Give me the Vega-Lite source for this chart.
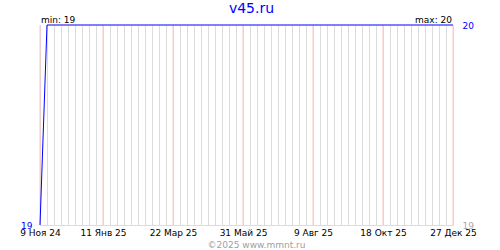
{
  "$schema": "https://vega.github.io/schema/vega-lite/v6.json",
  "width": 413,
  "height": 200,
  "autosize": {"type": "none"},
  "padding": {"left": 40, "top": 25, "right": 47, "bottom": 25},
  "background": "white",
  "config": {"view": {"stroke": null}, "font": "DejaVu Sans"},
  "title": {"text": "v45.ru", "fontSize": 14, "fontWeight": "normal", "color": "#0000ff", "font": "DejaVu Sans", "anchor": "middle", "offset": 0, "dx": 5},
  "encoding": {
    "x": {
      "field": "date", "type": "temporal",
      "scale": {"type": "utc", "domain": [{"year": 2024, "month": 11, "date": 9, "utc": true}, {"year": 2025, "month": 12, "date": 27, "utc": true}]},
      "axis": {
        "orient": "bottom",
        "values": [1731110400000,1731715200000,1732320000000,1732924800000,1733529600000,1734134400000,1734739200000,1735344000000,1735948800000,1736553600000,1737158400000,1737763200000,1738368000000,1738972800000,1739577600000,1740182400000,1740787200000,1741392000000,1741996800000,1742601600000,1743206400000,1743811200000,1744416000000,1745020800000,1745625600000,1746230400000,1746835200000,1747440000000,1748044800000,1748649600000,1749254400000,1749859200000,1750464000000,1751068800000,1751673600000,1752278400000,1752883200000,1753488000000,1754092800000,1754697600000,1755302400000,1755907200000,1756512000000,1757116800000,1757721600000,1758326400000,1758931200000,1759536000000,1760140800000,1760745600000,1761350400000,1761955200000,1762560000000,1763164800000,1763769600000,1764374400000,1764979200000,1765584000000,1766188800000,1766793600000],
        "grid": true,
        "gridWidth": 1,
        "gridColor": "#dcdcdc",
        "ticks": false,
        "tickSize": 0,
        "domainColor": "#dcdcdc",
        "labelExpr": "indexof([1731110400000,1736553600000,1742601600000,1748649600000,1754697600000,1760745600000,1766793600000], +datum.value) >= 0 ? (utcdate(datum.value) + ' ' + ['Янв','Фев','Мар','Апр','Май','Июн','Июл','Авг','Сен','Окт','Ноя','Дек'][utcmonth(datum.value)] + ' ' + utcFormat(datum.value, '%y')) : ''",
        "labelFlush": false,
        "labelOverlap": false,
        "labelBound": false,
        "labelFont": "DejaVu Sans",
        "labelFontSize": 9,
        "labelColor": "#000000",
        "labelPadding": 3,
        "title": "©2025 www.mmnt.ru",
        "titleFont": "DejaVu Sans",
        "titleFontSize": 9,
        "titleFontWeight": "normal",
        "titleColor": "#a0a0a0",
        "titlePadding": 3,
        "titleX": 216
      }
    }
  },
  "layer": [
    {
      "data": {"values": [
        {"date": "2024-11-09"},
        {"date": "2025-01-11"},
        {"date": "2025-03-22"},
        {"date": "2025-05-31"},
        {"date": "2025-08-09"},
        {"date": "2025-10-18"},
        {"date": "2025-12-27"}
      ]},
      "mark": {"type": "rule", "color": "#ffc4c4", "strokeWidth": 1},
      "encoding": {}
    },
    {
      "data": {"values": [
        {"date": "2024-11-09", "value": 19},
        {"date": "2024-11-16", "value": 20},
        {"date": "2025-12-27", "value": 20}
      ]},
      "mark": {"type": "line", "color": "#0000ff", "strokeWidth": 1},
      "encoding": {
        "y": {
          "field": "value", "type": "quantitative",
          "scale": {"domain": [19, 20], "nice": false, "zero": false},
          "axis": {"orient": "left", "values": [19], "format": "d", "domain": false, "ticks": false, "grid": false, "labelColor": "#0000ff", "labelFont": "DejaVu Sans", "labelFontSize": 9, "labelPadding": 8, "title": null}
        }
      }
    },
    {
      "data": {"values": [{"date": "2024-11-09", "value": 20, "label": "min: 19"}]},
      "mark": {"type": "text", "align": "left", "baseline": "alphabetic", "dx": 1, "dy": -2, "font": "DejaVu Sans", "fontSize": 9, "color": "#000000"},
      "encoding": {
        "y": {"field": "value", "type": "quantitative", "scale": {"domain": [19, 20], "nice": false, "zero": false}, "axis": null},
        "text": {"field": "label"}
      }
    },
    {
      "data": {"values": [{"date": "2025-12-27", "value": 20, "label": "max: 20"}]},
      "mark": {"type": "text", "align": "right", "baseline": "alphabetic", "dx": -1, "dy": -2, "font": "DejaVu Sans", "fontSize": 9, "color": "#000000"},
      "encoding": {
        "y": {
          "field": "value", "type": "quantitative",
          "scale": {"domain": [19, 20], "nice": false, "zero": false},
          "axis": {"orient": "right", "values": [19, 20], "format": "d", "domain": false, "ticks": false, "grid": false, "labelColor": {"condition": {"test": "datum.value == 20", "value": "#0000ff"}, "value": "#a8a8a8"}, "labelFont": "DejaVu Sans", "labelFontSize": 9, "labelPadding": 9, "title": null}
        },
        "text": {"field": "label"}
      }
    }
  ],
  "resolve": {"axis": {"y": "independent"}}
}
